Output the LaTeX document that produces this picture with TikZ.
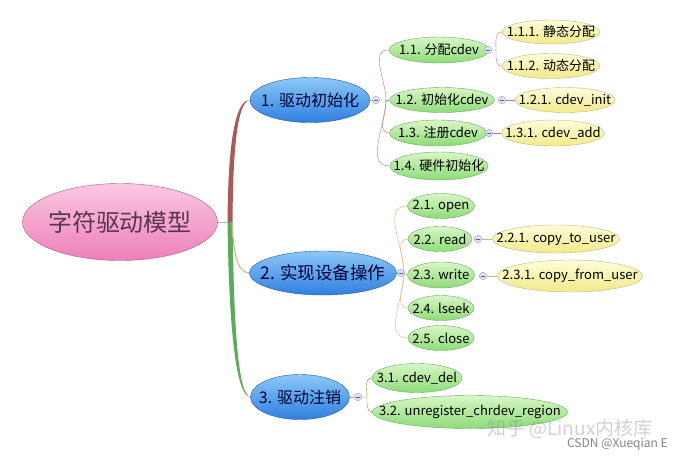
\documentclass[tikz,border=0pt]{standalone}
\usepackage{fontspec}
\setmainfont{Noto Sans CJK SC}
\usepackage{xcolor}
\usetikzlibrary{positioning, shapes.geometric}

\definecolor{rootpk}{HTML}{EE7FBA}
\definecolor{rootlt}{HTML}{FAC8E2}
\definecolor{roottxt}{HTML}{5A3550}
\definecolor{bluedk}{HTML}{2F7FE0}
\definecolor{bluelt}{HTML}{8CC8F8}
\definecolor{greendk}{HTML}{8EDB78}
\definecolor{greenlt}{HTML}{D8F6C6}
\definecolor{yellowdk}{HTML}{F1EA8A}
\definecolor{yellowlt}{HTML}{FEFCDA}
\definecolor{linkA}{HTML}{A85A5A}
\definecolor{linkB}{HTML}{CDB77A}
\definecolor{linkC}{HTML}{5DAA5A}
\definecolor{markfill}{HTML}{DCE4F2}

\begin{document}
\begin{tikzpicture}[
    x=1pt, y=-1pt,
    every node/.style={inner sep=0pt},
    bubble/.style={ellipse, thin, inner xsep=-40pt, inner ysep=-12pt},
    rootnode/.style={bubble, draw=rootpk!70!black, top color=rootlt, bottom color=rootpk,
        font=\fontsize{24}{28}\selectfont, text=roottxt},
    topicnode/.style={bubble, draw=bluedk!70!black, top color=bluelt, bottom color=bluedk,
        font=\fontsize{16}{18}\selectfont, text=black!80!blue},
    subnode/.style={bubble, draw=green!45!black!60, top color=greenlt, bottom color=greendk,
        font=\fontsize{13}{15}\selectfont},
    leafnode/.style={bubble, draw=yellow!50!black!60, top color=yellowlt, bottom color=yellowdk,
        font=\fontsize{13}{15}\selectfont},
    marker/.style={circle, draw=blue!30!gray!60, fill=markfill, minimum size=7.5pt,
        path picture={\draw[blue!30!gray, line width=0.6pt] ([xshift=-2pt]path picture bounding box.center) -- ([xshift=2pt]path picture bounding box.center);}},
]
\useasboundingbox[fill=white] (0,0) rectangle (683,456);

% central topic
\node[rootnode, minimum width=195, minimum height=77] (root) at (120,222) {字符驱动模型};

% main topics
\node[topicnode, minimum width=120, minimum height=45] (t1) at (310,100) {1. 驱动初始化};
\node[topicnode, minimum width=147, minimum height=44, font=\fontsize{17.5}{20}\selectfont] (t2) at (323,273) {2. 实现设备操作};
\node[topicnode, minimum width=99,  minimum height=45] (t3) at (300,397) {3. 驱动注销};

% subtopics of 1
\node[subnode, minimum width=100, minimum height=26] (s11) at (439,50)  {1.1. 分配cdev};
\node[subnode, minimum width=105, minimum height=25] (s12) at (442,100) {1.2. 初始化cdev};
\node[subnode, minimum width=97,  minimum height=26] (s13) at (438,133) {1.3. 注册cdev};
\node[subnode, minimum width=98,  minimum height=28] (s14) at (439,166) {1.4. 硬件初始化};
\node[leafnode, minimum width=98,  minimum height=24] (l111) at (551,32)  {1.1.1. 静态分配};
\node[leafnode, minimum width=98,  minimum height=25] (l112) at (551,66)  {1.1.2. 动态分配};
\node[leafnode, minimum width=100, minimum height=25] (l121) at (565,100) {1.2.1. cdev\_init};
\node[leafnode, minimum width=103, minimum height=26] (l131) at (553,133) {1.3.1. cdev\_add};

% subtopics of 2
\node[subnode, minimum width=67, minimum height=25] (s21) at (441,206) {2.1. open};
\node[subnode, minimum width=64, minimum height=25] (s22) at (440,239) {2.2. read};
\node[subnode, minimum width=67, minimum height=26] (s23) at (441,275) {2.3. write};
\node[subnode, minimum width=66, minimum height=25] (s24) at (441,308) {2.4. lseek};
\node[subnode, minimum width=66, minimum height=25] (s25) at (441,338) {2.5. close};
\node[leafnode, minimum width=127, minimum height=28] (l221) at (556,239) {2.2.1. copy\_to\_user};
\node[leafnode, minimum width=145, minimum height=32] (l231) at (570,276) {2.3.1. copy\_from\_user};

% subtopics of 3
\node[subnode, minimum width=90,  minimum height=29] (s31) at (417,378) {3.1. cdev\_del};
\node[subnode, minimum width=195, minimum height=33] (s32) at (470,412) {3.2. unregister\_chrdev\_region};

% collapse markers
\node[marker] (m1)  at (376,100) {};
\node[marker] (m2)  at (401,273) {};
\node[marker] (m3)  at (358,397) {};
\node[marker] (m11) at (488,50)  {};
\node[marker] (m12) at (502,100) {};
\node[marker] (m13) at (489,133) {};
\node[marker] (m22) at (478,239) {};
\node[marker] (m23) at (483,276) {};

% junctions
\coordinate (j0)  at (230,222);
\coordinate (j1)  at (386,100);
\coordinate (j2)  at (404,273);
\coordinate (j3)  at (367,397);
\coordinate (j11) at (496,50);

% root branches, tapered
\draw[gray!60] (root.east) -- (j0);
\fill[linkA] ([xshift=-2.5pt]j0) .. controls (228,150) and (234,100) .. (t1.west)
      .. controls (237,102) and (233,150) .. ([xshift=2.5pt]j0) -- cycle;
\fill[linkC] ([xshift=-2.5pt]j0) .. controls (229,330) and (236,396) .. (t3.west)
      .. controls (238,394) and (234,330) .. ([xshift=2.5pt]j0) -- cycle;
\draw[linkB, line width=1pt] ([xshift=2pt]j0) .. controls (234,258) and (238,272) .. (t2.west);

% group 1
\draw[gray!60] (t1.east) -- (m1);
\draw[linkA!80] (m1) -- (j1) to[out=90, in=180] (s11.west);
\draw[linkA!80] (j1) -- (s12.west);
\draw[linkA!80] (j1) to[out=-90, in=180] (s13.west);
\draw[linkA!80] (j1) to[out=-90, in=180] (s14.west);
\draw[linkA!80] (m11) -- (j11) to[out=90, in=180] (l111.west);
\draw[linkA!80] (j11) to[out=-90, in=180] (l112.west);
\draw[linkA!80] (m12) -- (l121.west);
\draw[linkA!80] (m13) -- (l131.west);

% group 2
\draw[gray!60] (t2.east) -- (m2);
\draw[linkB] (m2) -- (j2) to[out=90, in=180] (s21.west);
\draw[linkB] (j2) to[out=90, in=180] (s22.west);
\draw[linkB] (j2) -- (s23.west);
\draw[linkB] (j2) to[out=-90, in=180] (s24.west);
\draw[linkB] (j2) to[out=-90, in=180] (s25.west);
\draw[linkB] (m22) -- (l221.west);
\draw[linkB] (m23) -- (l231.west);

% group 3
\draw[gray!60] (t3.east) -- (m3);
\draw[olive!70!green] (m3) -- (j3) to[out=90, in=180] (s31.west);
\draw[olive!70!green] (j3) to[out=-90, in=180] (s32.west);

% watermarks
\node[text=gray, opacity=0.35, font=\fontsize{19}{22}\selectfont, anchor=west] (wm1) at (487,429) {知乎 @Linux内核库};
\node[text=gray!80!black, opacity=0.8, font=\fontsize{12}{14}\selectfont, anchor=east] (wm2) at (668,444) {CSDN @Xueqian E};
\end{tikzpicture}
\end{document}
